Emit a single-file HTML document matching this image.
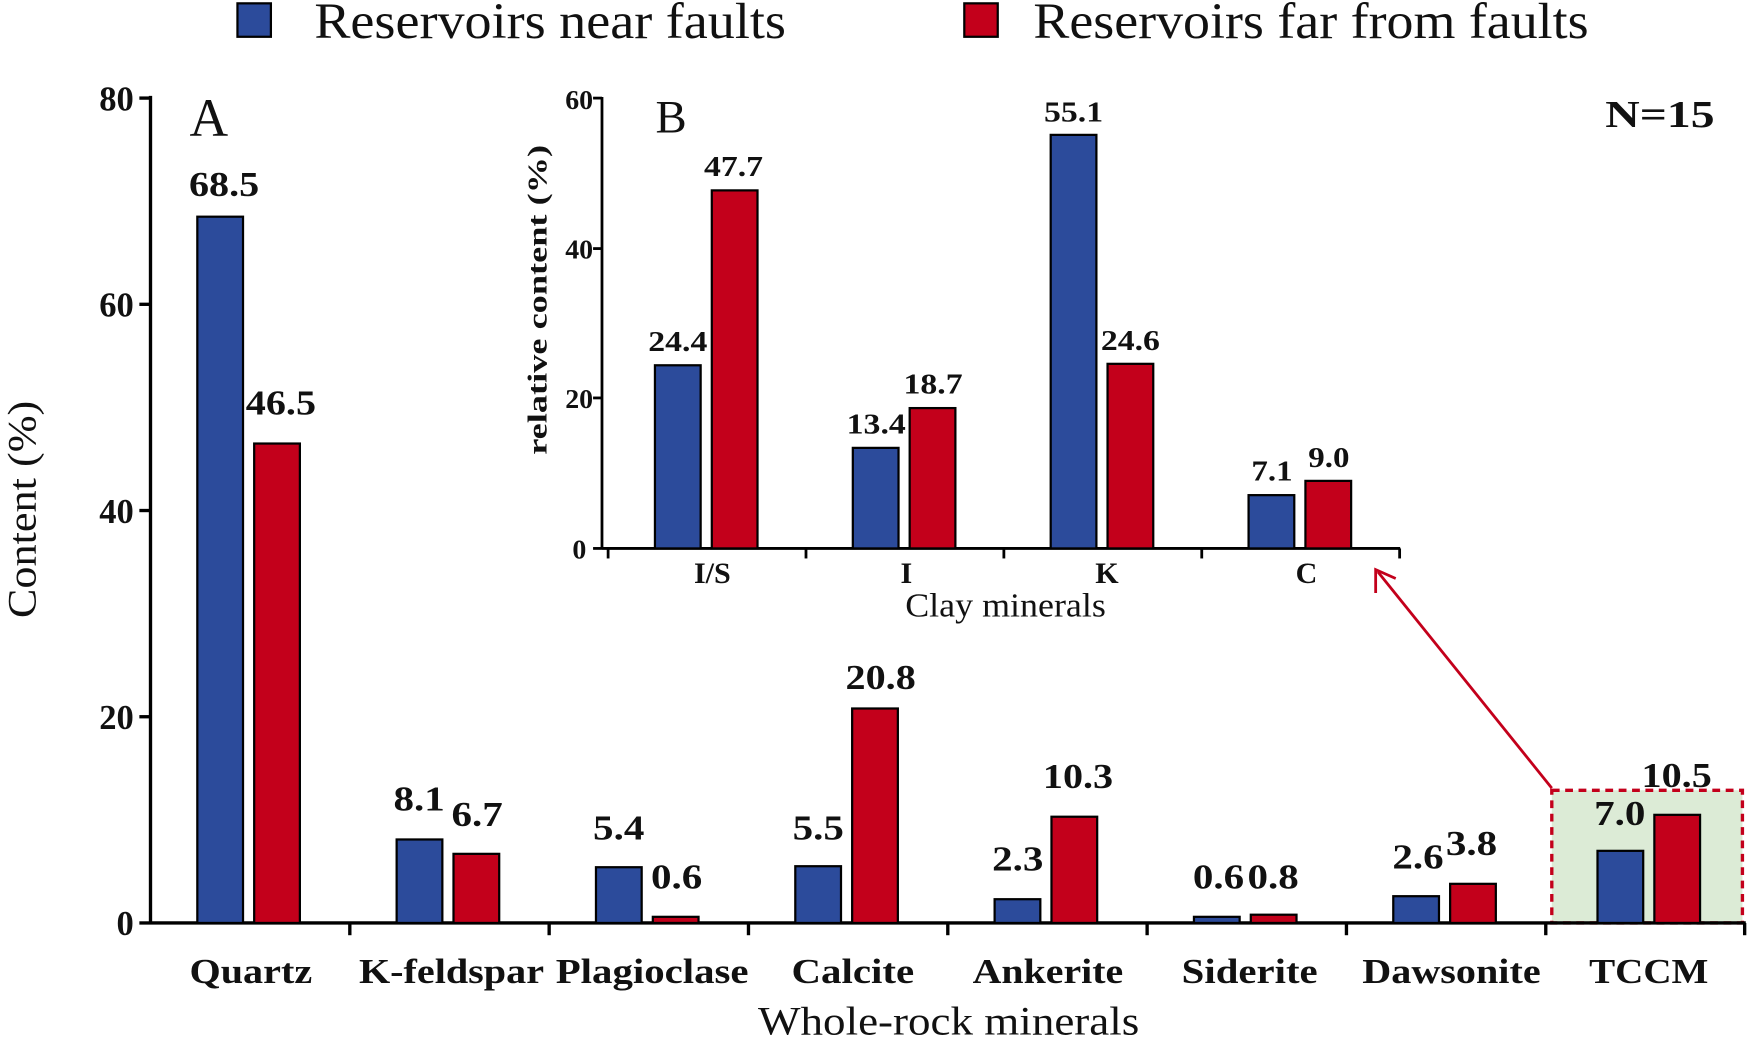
<!DOCTYPE html>
<html><head><meta charset="utf-8"><style>
html,body{margin:0;padding:0;background:#fff}
svg{display:block}
text{font-family:"Liberation Serif",serif;fill:#111}
.b{font-weight:bold}
</style></head><body>
<svg width="1748" height="1040" viewBox="0 0 1568 933" preserveAspectRatio="none" xmlns="http://www.w3.org/2000/svg">
<!-- legend -->
<rect x="213" y="3" width="30" height="30" fill="#2c4b9b" stroke="#000" stroke-width="2"/>
<text x="282" y="34" font-size="46" textLength="423" lengthAdjust="spacingAndGlyphs">Reservoirs near faults</text>
<rect x="865" y="3" width="30" height="30" fill="#c3001b" stroke="#000" stroke-width="2"/>
<text x="927" y="34" font-size="46" textLength="498" lengthAdjust="spacingAndGlyphs">Reservoirs far from faults</text>

<!-- green box -->
<rect x="1392" y="709" width="171" height="119" fill="#dcebd6" stroke="#c3001b" stroke-width="3" stroke-dasharray="7,5"/>
<line x1="1392" y1="707" x2="1236" y2="513" stroke="#c3001b" stroke-width="2.5"/>
<polyline points="1234,532 1234,511 1252,519" fill="none" stroke="#c3001b" stroke-width="2.5"/>

<!-- main axes -->
<g stroke="#000" stroke-width="3">
<line x1="135" y1="86" x2="135" y2="829"/>
<line x1="135" y1="828" x2="1566" y2="828"/>
<line x1="125" y1="88" x2="135" y2="88"/>
<line x1="125" y1="273" x2="135" y2="273"/>
<line x1="125" y1="458" x2="135" y2="458"/>
<line x1="125" y1="643" x2="135" y2="643"/>
<line x1="125" y1="828" x2="135" y2="828"/>
<line x1="313.8" y1="828" x2="313.8" y2="839"/>
<line x1="492.6" y1="828" x2="492.6" y2="839"/>
<line x1="671.4" y1="828" x2="671.4" y2="839"/>
<line x1="850.2" y1="828" x2="850.2" y2="839"/>
<line x1="1029" y1="828" x2="1029" y2="839"/>
<line x1="1207.8" y1="828" x2="1207.8" y2="839"/>
<line x1="1386.6" y1="828" x2="1386.6" y2="839"/>
<line x1="1565" y1="828" x2="1565" y2="839"/>
</g>
<g font-size="31" text-anchor="end">
<text x="120" y="99" class="b">80</text>
<text x="120" y="284" class="b">60</text>
<text x="120" y="469" class="b">40</text>
<text x="120" y="654" class="b">20</text>
<text x="120" y="839" class="b">0</text>
</g>
<text x="0" y="0" font-size="36" text-anchor="middle" textLength="195" lengthAdjust="spacingAndGlyphs" transform="translate(32,457) rotate(-90)">Content (%)</text>
<text x="170" y="122" font-size="48">A</text>
<text x="1538" y="114" font-size="34" class="b" text-anchor="end" textLength="98" lengthAdjust="spacingAndGlyphs">N=15</text>

<!-- main bars -->
<g stroke="#000" stroke-width="2">
<rect x="177" y="194.4" width="41" height="633.6" fill="#2c4b9b"/>
<rect x="228" y="397.9" width="41" height="430.1" fill="#c3001b"/>
<rect x="355.8" y="753.1" width="41" height="74.9" fill="#2c4b9b"/>
<rect x="406.8" y="766" width="41" height="62" fill="#c3001b"/>
<rect x="534.6" y="778" width="41" height="50" fill="#2c4b9b"/>
<rect x="585.6" y="822.5" width="41" height="5.5" fill="#c3001b"/>
<rect x="713.4" y="777.1" width="41" height="50.9" fill="#2c4b9b"/>
<rect x="764.4" y="635.6" width="41" height="192.4" fill="#c3001b"/>
<rect x="892.2" y="806.7" width="41" height="21.3" fill="#2c4b9b"/>
<rect x="943.2" y="732.7" width="41" height="95.3" fill="#c3001b"/>
<rect x="1071" y="822.5" width="41" height="5.5" fill="#2c4b9b"/>
<rect x="1122" y="820.6" width="41" height="7.4" fill="#c3001b"/>
<rect x="1249.8" y="804" width="41" height="24" fill="#2c4b9b"/>
<rect x="1300.8" y="792.9" width="41" height="35.1" fill="#c3001b"/>
<rect x="1433" y="763.3" width="41" height="64.7" fill="#2c4b9b"/>
<rect x="1484" y="731" width="41" height="97" fill="#c3001b"/>
</g>
<g font-size="31" text-anchor="middle" lengthAdjust="spacingAndGlyphs">
<text x="201" y="176" class="b" textLength="63" lengthAdjust="spacingAndGlyphs">68.5</text>
<text x="252" y="372" class="b" textLength="63" lengthAdjust="spacingAndGlyphs">46.5</text>
<text x="376" y="727" class="b" textLength="46" lengthAdjust="spacingAndGlyphs">8.1</text>
<text x="428" y="741" class="b" textLength="46" lengthAdjust="spacingAndGlyphs">6.7</text>
<text x="555" y="753" class="b" textLength="46" lengthAdjust="spacingAndGlyphs">5.4</text>
<text x="607" y="797" class="b" textLength="46" lengthAdjust="spacingAndGlyphs">0.6</text>
<text x="734" y="753" class="b" textLength="46" lengthAdjust="spacingAndGlyphs">5.5</text>
<text x="790" y="618" class="b" textLength="63" lengthAdjust="spacingAndGlyphs">20.8</text>
<text x="913" y="781" class="b" textLength="46" lengthAdjust="spacingAndGlyphs">2.3</text>
<text x="967" y="707" class="b" textLength="63" lengthAdjust="spacingAndGlyphs">10.3</text>
<text x="1093" y="797" class="b" textLength="46" lengthAdjust="spacingAndGlyphs">0.6</text>
<text x="1142" y="797" class="b" textLength="46" lengthAdjust="spacingAndGlyphs">0.8</text>
<text x="1272" y="779" class="b" textLength="46" lengthAdjust="spacingAndGlyphs">2.6</text>
<text x="1320" y="767" class="b" textLength="46" lengthAdjust="spacingAndGlyphs">3.8</text>
<text x="1453" y="740" class="b" textLength="46" lengthAdjust="spacingAndGlyphs">7.0</text>
<text x="1504" y="706" class="b" textLength="63" lengthAdjust="spacingAndGlyphs">10.5</text>
</g>
<g font-size="31" text-anchor="middle">
<text x="225" y="882" class="b" textLength="110" lengthAdjust="spacingAndGlyphs">Quartz</text>
<text x="405" y="882" class="b" textLength="166" lengthAdjust="spacingAndGlyphs">K-feldspar</text>
<text x="585" y="882" class="b" textLength="173" lengthAdjust="spacingAndGlyphs">Plagioclase</text>
<text x="765" y="882" class="b" textLength="110" lengthAdjust="spacingAndGlyphs">Calcite</text>
<text x="940" y="882" class="b" textLength="135" lengthAdjust="spacingAndGlyphs">Ankerite</text>
<text x="1121" y="882" class="b" textLength="122" lengthAdjust="spacingAndGlyphs">Siderite</text>
<text x="1302" y="882" class="b" textLength="160" lengthAdjust="spacingAndGlyphs">Dawsonite</text>
<text x="1479" y="882" class="b" textLength="107" lengthAdjust="spacingAndGlyphs">TCCM</text>
</g>
<text x="851" y="928" font-size="36" text-anchor="middle" textLength="342" lengthAdjust="spacingAndGlyphs">Whole-rock minerals</text>

<!-- inset B -->
<g stroke="#000" stroke-width="2.5">
<line x1="540" y1="87" x2="540" y2="493"/>
<line x1="540" y1="492" x2="1256" y2="492"/>
<line x1="532" y1="88" x2="540" y2="88"/>
<line x1="532" y1="223" x2="540" y2="223"/>
<line x1="532" y1="357" x2="540" y2="357"/>
<line x1="532" y1="492" x2="540" y2="492"/>
<line x1="545.5" y1="492" x2="545.5" y2="501"/>
<line x1="723" y1="492" x2="723" y2="501"/>
<line x1="900.5" y1="492" x2="900.5" y2="501"/>
<line x1="1078" y1="492" x2="1078" y2="501"/>
<line x1="1255.5" y1="492" x2="1255.5" y2="501"/>
</g>
<g font-size="25" text-anchor="end">
<text x="532" y="98" class="b">60</text>
<text x="532" y="232" class="b">40</text>
<text x="532" y="366" class="b">20</text>
<text x="526" y="501" class="b">0</text>
</g>
<text x="0" y="0" font-size="25" class="b" text-anchor="middle" textLength="278" lengthAdjust="spacingAndGlyphs" transform="translate(490,269) rotate(-90)">relative content  (%)</text>
<text x="588" y="119" font-size="42">B</text>
<g stroke="#000" stroke-width="2">
<rect x="587.5" y="327.7" width="41" height="164.3" fill="#2c4b9b"/>
<rect x="638.5" y="170.8" width="41" height="321.2" fill="#c3001b"/>
<rect x="765" y="401.8" width="41" height="90.2" fill="#2c4b9b"/>
<rect x="816" y="366.1" width="41" height="125.9" fill="#c3001b"/>
<rect x="942.5" y="121" width="41" height="371" fill="#2c4b9b"/>
<rect x="993.5" y="326.4" width="41" height="165.6" fill="#c3001b"/>
<rect x="1120" y="444.2" width="41" height="47.8" fill="#2c4b9b"/>
<rect x="1171" y="431.4" width="41" height="60.6" fill="#c3001b"/>
</g>
<g font-size="26" text-anchor="middle">
<text x="608" y="315" class="b" textLength="53" lengthAdjust="spacingAndGlyphs">24.4</text>
<text x="658" y="158" class="b" textLength="53" lengthAdjust="spacingAndGlyphs">47.7</text>
<text x="786" y="389" class="b" textLength="53" lengthAdjust="spacingAndGlyphs">13.4</text>
<text x="837" y="353" class="b" textLength="53" lengthAdjust="spacingAndGlyphs">18.7</text>
<text x="963" y="109" class="b" textLength="53" lengthAdjust="spacingAndGlyphs">55.1</text>
<text x="1014" y="314" class="b" textLength="53" lengthAdjust="spacingAndGlyphs">24.6</text>
<text x="1141" y="431" class="b" textLength="37" lengthAdjust="spacingAndGlyphs">7.1</text>
<text x="1192" y="419" class="b" textLength="37" lengthAdjust="spacingAndGlyphs">9.0</text>
</g>
<g font-size="27" text-anchor="middle">
<text x="639" y="523" class="b">I/S</text>
<text x="813" y="523" class="b">I</text>
<text x="993" y="523" class="b">K</text>
<text x="1172" y="523" class="b">C</text>
</g>
<text x="902" y="553" font-size="30" text-anchor="middle" textLength="180" lengthAdjust="spacingAndGlyphs">Clay minerals</text>
</svg>
</body></html>
